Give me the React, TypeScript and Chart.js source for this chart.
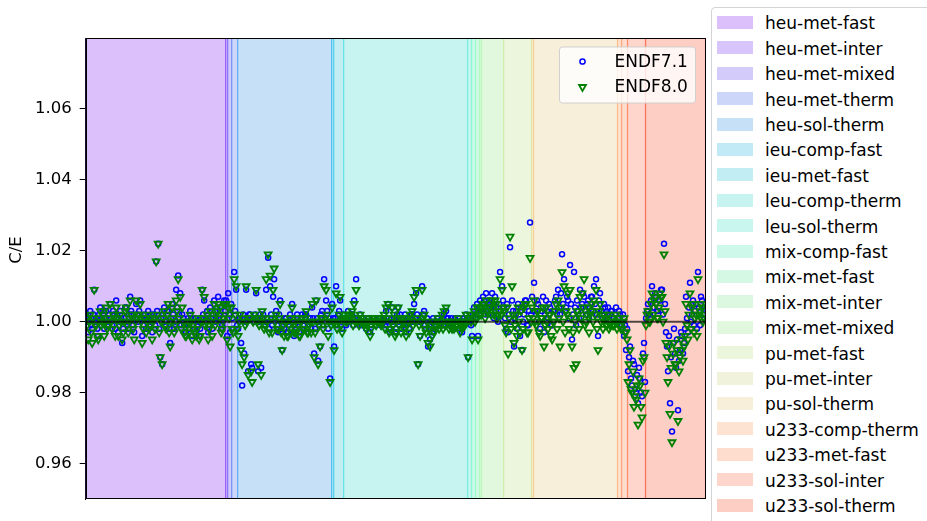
import React, { useEffect, useRef } from 'react';
import { Chart, registerables } from 'chart.js';

Chart.register(...registerables);

const categories = [
  'heu-met-fast', 'heu-met-inter', 'heu-met-mixed', 'heu-met-therm', 'heu-sol-therm',
  'ieu-comp-fast', 'ieu-met-fast', 'leu-comp-therm', 'leu-sol-therm', 'mix-comp-fast',
  'mix-met-fast', 'mix-met-inter', 'mix-met-mixed', 'pu-met-fast', 'pu-met-inter',
  'pu-sol-therm', 'u233-comp-therm', 'u233-met-fast', 'u233-sol-inter', 'u233-sol-therm',
];

// number of benchmark cases in each category, in plotting order
const categoryCounts = [140, 2, 4, 6, 94, 2, 10, 124, 4, 4, 4, 2, 22, 28, 2, 84, 4, 6, 18, 60];

const bandColors = [
  '#dcc0fb', '#d8c5fb', '#d3cbfa', '#ccd6f8', '#c6e1f7',
  '#c2e9f6', '#c2edf3', '#c7f4f1', '#c9f6ef', '#cdf8ea',
  '#d4f8e4', '#dcf8e1', '#e2f8de', '#ebf6dd', '#f1f2dc',
  '#f8efdb', '#fde4d2', '#fedcce', '#fed6cc', '#fdcec4',
];

const yTicks = [0.96, 0.98, 1.0, 1.02, 1.04, 1.06];
const seriesNames = ['ENDF7.1', 'ENDF8.0'];

const endf71 = [
  // heu-met-fast
  1.002,1.000,0.997,1.001,1.003,0.999,0.998,1.002,1.009,1.000,1.001,0.998,0.996,1.002,1.004,1.000,1.001,1.003,0.998,1.001,
  1.003,0.999,1.000,1.002,1.005,1.001,0.999,1.003,1.002,0.998,1.006,1.002,0.997,1.000,1.003,1.001,0.994,0.998,1.001,1.004,
  1.004,1.000,0.998,1.002,1.007,1.003,1.002,0.999,0.997,1.001,1.005,1.002,1.000,1.003,1.006,1.001,0.996,0.999,1.001,1.002,
  0.998,1.001,1.003,0.999,1.000,1.002,0.997,1.001,1.002,0.999,1.017,1.003,1.022,0.998,0.990,1.001,0.988,1.002,1.004,1.000,
  0.999,1.003,1.003,0.998,0.994,1.001,1.005,1.002,0.998,1.000,1.009,1.004,1.013,1.002,1.008,0.999,1.002,1.001,0.999,0.997,
  0.997,1.000,1.001,0.998,1.003,1.001,0.996,0.999,0.998,1.001,0.997,0.999,1.000,0.996,0.998,1.001,1.009,1.002,1.006,1.000,
  1.001,1.003,0.997,0.999,1.004,1.001,0.998,1.002,1.006,1.000,1.001,1.004,1.007,1.002,1.003,0.998,0.999,1.001,1.006,1.003,
  // heu-met-inter
  1.006,0.996,
  // heu-met-mixed
  1.008,1.002,0.997,1.005,
  // heu-met-therm
  1.001,0.998,1.014,1.003,1.009,0.999,
  // heu-sol-therm
  0.998,1.001,1.001,0.994,0.982,1.002,0.991,1.000,1.009,1.001,0.986,1.002,1.002,0.988,0.987,1.001,1.000,1.002,1.008,1.001,
  0.986,1.000,1.002,0.987,1.001,1.002,0.999,1.000,1.009,1.001,1.018,0.998,1.010,1.002,0.999,1.007,1.012,1.001,1.003,0.999,
  0.997,1.002,1.006,0.998,0.992,1.000,0.998,1.001,1.001,0.997,0.997,1.000,1.002,0.998,1.005,1.001,0.996,0.999,0.998,1.002,
  1.000,0.997,0.997,1.001,1.002,0.999,0.999,1.002,1.002,0.998,0.997,1.000,1.001,0.998,1.004,1.001,0.991,0.998,1.006,1.001,
  0.989,1.000,0.993,1.002,1.003,0.999,1.012,1.001,1.006,1.003,0.998,1.001,0.984,1.000,
  // ieu-comp-fast
  1.005,1.001,
  // ieu-met-fast
  0.993,1.001,1.010,0.999,1.002,1.003,1.006,1.000,0.998,1.002,
  // leu-comp-therm
  1.001,1.000,0.999,1.001,1.003,1.000,1.000,1.002,1.002,0.999,1.006,1.001,1.012,1.000,1.001,0.999,1.002,1.000,0.999,1.001,
  1.000,0.999,0.998,1.000,1.001,1.000,0.997,0.999,1.000,1.001,1.001,1.000,0.999,1.000,1.000,1.001,1.001,0.999,0.999,1.000,
  1.001,0.999,1.003,1.000,1.005,0.998,0.997,1.001,1.004,1.000,1.001,0.997,0.998,1.002,1.004,1.000,1.002,0.998,1.000,1.001,
  0.999,1.002,0.997,1.000,1.001,0.998,1.000,1.002,1.002,1.000,1.005,1.001,1.008,1.002,0.988,1.000,0.996,1.001,1.010,1.002,
  1.003,0.999,0.998,1.001,0.993,0.999,0.995,1.000,0.997,1.001,0.998,1.000,0.999,1.001,1.000,0.999,0.999,1.000,1.001,0.999,
  1.002,1.000,1.003,1.001,1.001,0.999,1.000,1.001,0.999,1.000,0.998,1.001,0.999,1.000,1.000,1.001,0.998,1.000,0.997,1.000,
  1.001,1.000,1.002,1.001,
  // leu-sol-therm
  0.990,1.000,1.001,0.999,
  // mix-comp-fast
  0.996,1.002,1.004,1.001,
  // mix-met-fast
  1.002,1.005,0.996,1.003,
  // mix-met-inter
  1.006,1.003,
  // mix-met-mixed
  1.003,1.007,1.006,1.002,1.008,1.004,1.002,1.006,1.005,1.003,1.008,1.005,1.001,1.007,1.004,1.002,1.000,1.005,1.014,1.003,1.010,1.006,
  // pu-met-fast
  1.004,1.001,0.998,1.005,0.997,1.002,1.021,1.000,1.006,1.003,0.993,1.001,1.003,0.998,1.005,1.002,0.996,1.004,0.992,1.000,
  1.002,1.006,1.006,0.999,0.999,1.003,1.028,1.002,
  // pu-met-inter
  1.007,1.003,
  // pu-sol-therm
  1.011,1.003,1.002,1.006,1.005,1.000,0.998,1.004,1.003,1.007,0.997,1.002,1.006,1.003,1.001,1.005,1.004,0.999,0.999,1.003,
  1.003,1.006,1.007,1.002,1.009,1.004,1.002,1.008,1.019,1.005,1.012,1.003,1.004,1.007,1.006,1.001,1.016,1.005,0.995,1.002,
  1.014,1.004,0.999,1.006,1.003,1.001,1.009,1.004,1.005,1.008,1.007,1.003,1.002,1.005,1.006,1.001,1.004,1.007,1.007,1.003,
  1.010,1.005,1.012,1.002,0.996,1.006,1.008,1.003,1.003,1.001,1.005,1.004,1.001,1.002,1.004,1.000,1.002,1.003,1.003,1.001,
  1.001,1.002,1.004,1.000,
  // u233-comp-therm
  1.001,1.003,1.002,0.999,
  // u233-met-fast
  0.999,1.002,0.996,0.999,0.992,0.998,
  // u233-sol-inter
  0.986,0.990,0.993,0.984,0.982,0.989,0.988,0.981,0.980,0.985,0.977,0.987,0.984,0.980,0.979,0.991,0.994,0.983,
  // u233-sol-therm
  1.001,1.003,1.005,1.002,1.002,1.006,1.010,1.004,1.004,1.008,1.007,1.003,1.003,1.006,1.006,1.009,1.009,1.002,1.022,1.005,
  0.997,0.993,0.986,0.996,0.977,0.990,0.969,0.994,0.998,0.991,0.987,0.995,0.975,0.989,0.992,0.997,0.996,0.991,0.994,0.998,
  1.007,1.001,0.997,1.004,1.011,1.000,1.002,1.006,0.999,1.003,1.005,0.998,1.014,1.004,0.999,1.007,1.006,1.002,1.002,1.004,
];

const endf80 = [
  // heu-met-fast
  1.001,0.999,0.995,1.000,1.002,0.997,0.994,1.001,1.009,0.999,0.999,0.996,0.995,1.001,1.003,0.999,1.000,1.002,0.996,1.000,
  1.004,0.998,0.999,1.001,1.005,1.000,0.998,1.002,1.001,0.996,1.004,1.001,0.996,0.999,1.002,1.000,0.995,0.997,1.000,1.003,
  1.004,0.999,0.997,1.001,1.006,1.002,1.001,0.998,0.995,1.000,1.006,1.001,1.002,1.002,1.005,1.000,0.994,0.998,1.001,1.001,
  0.997,1.000,1.002,0.998,0.999,1.001,0.995,1.000,1.001,0.998,1.017,1.002,1.022,0.997,0.990,1.000,0.988,1.001,1.003,0.999,
  0.998,1.002,1.005,0.997,0.993,1.000,1.004,1.001,0.997,0.999,1.006,1.003,1.012,1.001,1.007,0.998,1.004,1.000,0.997,0.996,
  0.996,0.999,1.000,0.997,1.002,1.000,0.995,0.998,0.997,1.000,0.996,0.998,1.001,0.995,0.996,1.000,1.009,1.001,1.007,0.999,
  1.000,1.002,0.995,0.998,1.003,1.000,0.996,1.001,1.005,0.999,1.002,1.003,1.005,1.001,1.004,0.997,0.998,1.000,1.005,1.002,
  // heu-met-inter
  1.005,0.995,
  // heu-met-mixed
  1.004,1.001,0.993,1.004,
  // heu-met-therm
  0.998,0.997,1.012,1.002,1.010,0.998,
  // heu-sol-therm
  0.996,1.000,1.002,0.992,0.988,1.001,0.990,0.999,1.010,1.000,0.985,1.001,1.001,0.986,0.983,1.000,1.002,1.001,1.009,1.000,
  0.988,0.999,1.001,0.985,1.003,1.001,0.998,0.999,1.012,1.000,1.019,0.997,1.013,1.001,0.997,1.009,1.015,1.000,1.002,0.998,
  0.998,1.001,1.005,0.997,0.992,0.999,0.996,1.000,1.000,0.996,0.996,0.999,1.001,0.997,1.004,1.000,0.997,0.998,0.997,1.001,
  0.999,0.996,0.996,1.000,1.001,0.998,0.998,1.001,1.003,0.997,0.997,0.999,1.000,0.997,1.005,1.000,0.990,0.997,1.006,1.000,
  0.988,0.999,0.993,1.001,1.001,0.998,1.010,1.000,1.009,1.002,0.996,1.000,0.983,0.999,
  // ieu-comp-fast
  1.004,1.000,
  // ieu-met-fast
  0.992,1.000,1.008,0.998,1.000,1.002,1.007,0.999,0.997,1.001,
  // leu-comp-therm
  1.002,1.001,1.000,1.000,1.002,1.001,1.001,1.002,1.003,0.999,1.005,1.000,1.009,1.001,1.000,0.999,1.002,1.001,1.000,1.000,
  0.999,1.000,0.998,0.999,1.000,1.001,0.996,0.998,1.001,1.000,1.000,1.001,0.999,1.000,1.001,1.000,1.000,0.999,1.000,1.001,
  1.002,0.998,1.004,1.001,1.005,0.997,0.998,1.000,1.004,0.999,1.002,0.996,0.997,1.001,1.004,0.999,1.001,0.997,1.001,1.000,
  0.998,1.001,0.996,0.999,1.000,0.997,1.002,1.001,1.003,0.999,1.007,1.000,1.009,1.001,0.988,0.999,0.996,1.000,1.009,1.001,
  1.002,0.998,0.997,1.000,0.994,0.998,0.993,0.999,0.996,1.000,0.997,0.999,0.998,1.000,1.001,0.998,1.000,0.999,1.002,0.998,
  1.003,0.999,1.004,1.000,1.000,0.998,0.999,1.000,0.998,0.999,0.998,1.000,0.999,0.999,1.001,1.000,0.997,0.999,0.998,0.999,
  1.000,0.999,1.002,1.000,
  // leu-sol-therm
  0.990,1.001,1.002,1.000,
  // mix-comp-fast
  0.995,1.001,1.003,1.000,
  // mix-met-fast
  1.001,1.004,0.995,1.002,
  // mix-met-inter
  1.004,1.002,
  // mix-met-mixed
  1.004,1.005,1.005,1.001,1.006,1.003,1.003,1.004,1.004,1.002,1.006,1.004,1.002,1.006,1.005,1.001,1.002,1.003,1.012,1.002,1.009,1.004,
  // pu-met-fast
  1.003,0.999,0.997,1.004,0.991,1.001,1.024,0.998,1.010,1.002,0.994,0.999,1.002,0.996,1.004,1.000,0.997,1.003,0.992,0.998,
  1.004,1.005,1.005,0.997,0.997,1.001,1.018,1.000,
  // pu-met-inter
  1.004,1.001,
  // pu-sol-therm
  1.006,1.000,0.999,1.003,1.003,0.997,0.996,1.001,1.001,1.004,0.993,0.999,1.004,1.000,0.998,1.002,1.002,0.996,0.995,1.000,
  1.000,1.003,1.005,0.998,1.006,1.001,0.993,1.004,1.014,1.000,1.010,0.997,1.003,1.002,1.008,0.998,1.009,1.001,0.993,0.997,
  0.987,1.000,0.988,1.003,1.002,0.998,1.007,1.001,1.008,1.004,1.012,0.999,1.000,1.002,1.004,0.997,1.002,1.003,1.005,1.000,
  1.006,1.002,1.009,0.998,0.992,1.003,1.005,1.000,1.001,0.998,1.002,1.001,0.999,0.999,1.002,0.998,0.999,1.000,1.001,0.999,
  0.999,1.000,1.002,0.998,
  // u233-comp-therm
  1.000,1.001,0.999,0.998,
  // u233-met-fast
  0.998,1.000,1.001,0.997,0.997,0.995,
  // u233-sol-inter
  0.983,0.988,0.992,0.981,0.980,0.986,0.976,0.979,0.978,0.982,0.971,0.984,0.982,0.976,0.973,0.989,0.990,0.980,
  // u233-sol-therm
  0.999,1.002,1.003,1.000,1.000,1.005,1.008,1.002,1.006,1.007,1.005,1.001,1.001,1.004,1.008,1.007,1.007,1.000,1.019,1.003,
  0.994,0.990,0.983,0.993,0.974,0.987,0.966,0.991,0.994,0.988,0.988,0.992,0.972,0.986,0.990,0.995,0.992,0.989,0.993,0.996,
  1.005,0.999,0.995,1.002,1.008,0.998,1.004,1.005,0.997,1.001,1.002,0.996,1.012,1.002,1.003,1.005,1.004,1.000,1.001,1.002,
];

const FONT = '"DejaVu Sans", "Liberation Sans", sans-serif';

function edgeColor(i: number, n: number) {
  const t = i / n;
  const r = Math.min(1, Math.abs(2 * t - 0.5));
  const g = Math.sin(Math.PI * t);
  const b = Math.cos((Math.PI * t) / 2);
  return `rgba(${Math.round(r * 255)},${Math.round(g * 255)},${Math.round(b * 255)},0.4)`;
}

const decorPlugin = {
  id: 'decor',
  beforeDatasetsDraw(chart: any) {
    const { ctx, chartArea: a, scales } = chart;
    const xs = scales.x;
    ctx.save();
    ctx.beginPath();
    ctx.rect(a.left, a.top, a.right - a.left, a.bottom - a.top);
    ctx.clip();
    let start = 0;
    const edges: Array<[number, number]> = [];
    categoryCounts.forEach((c, i) => {
      const x0 = xs.getPixelForValue(start - 0.5);
      const x1 = xs.getPixelForValue(start + c - 0.5);
      ctx.fillStyle = bandColors[i];
      ctx.fillRect(x0, a.top, x1 - x0, a.bottom - a.top);
      edges.push([x0, x1]);
      start += c;
    });
    edges.forEach(([x0, x1], i) => {
      ctx.strokeStyle = edgeColor(i, categories.length);
      ctx.lineWidth = 1.2;
      [x0, x1].forEach((xx) => {
        ctx.beginPath();
        ctx.moveTo(xx, a.top);
        ctx.lineTo(xx, a.bottom);
        ctx.stroke();
      });
    });
    ctx.restore();
  },
  afterDatasetsDraw(chart: any) {
    const { ctx, chartArea: a, scales } = chart;
    ctx.save();
    // reference line at C/E = 1
    const y1 = scales.y.getPixelForValue(1);
    ctx.strokeStyle = 'rgba(0,0,0,0.68)';
    ctx.lineWidth = 2;
    ctx.beginPath();
    ctx.moveTo(a.left, y1);
    ctx.lineTo(a.right, y1);
    ctx.stroke();

    // frame
    ctx.strokeStyle = '#000';
    ctx.lineWidth = 1;
    ctx.strokeRect(Math.round(a.left) + 0.5, Math.round(a.top) + 0.5,
      Math.round(a.right - a.left) - 1, Math.round(a.bottom - a.top) - 1);

    // series legend inside plot
    const bw = 136, bh = 56;
    const bx = a.right - 10 - bw, by = a.top + 9;
    ctx.beginPath();
    const r = 3;
    ctx.moveTo(bx + r, by);
    ctx.arcTo(bx + bw, by, bx + bw, by + bh, r);
    ctx.arcTo(bx + bw, by + bh, bx, by + bh, r);
    ctx.arcTo(bx, by + bh, bx, by, r);
    ctx.arcTo(bx, by, bx + bw, by, r);
    ctx.closePath();
    ctx.fillStyle = 'rgba(255,255,255,0.8)';
    ctx.fill();
    ctx.strokeStyle = 'rgba(204,204,204,0.9)';
    ctx.stroke();

    const mx = bx + 23;
    const rows = [by + 14.5, by + 40];
    ctx.strokeStyle = '#0000ff';
    ctx.lineWidth = 1.5;
    ctx.beginPath();
    ctx.arc(mx, rows[0], 2.6, 0, Math.PI * 2);
    ctx.stroke();
    const tr = 4;
    ctx.strokeStyle = '#008000';
    ctx.lineWidth = 1.8;
    ctx.beginPath();
    ctx.moveTo(mx, rows[1] + tr);
    ctx.lineTo(mx - tr * Math.sin(Math.PI / 3), rows[1] - tr / 2);
    ctx.lineTo(mx + tr * Math.sin(Math.PI / 3), rows[1] - tr / 2);
    ctx.closePath();
    ctx.stroke();

    ctx.fillStyle = '#000';
    ctx.font = `17px ${FONT}`;
    ctx.textBaseline = 'middle';
    ctx.textAlign = 'left';
    seriesNames.forEach((s, i) => ctx.fillText(s, bx + 55, rows[i] + 1));

    // y axis label
    ctx.translate(17, 250);
    ctx.rotate(-Math.PI / 2);
    ctx.textAlign = 'center';
    ctx.font = `16.5px ${FONT}`;
    ctx.fillText('C/E', 0, 0);
    ctx.restore();
  },
};

export default function App() {
  const ref = useRef<HTMLCanvasElement | null>(null);

  useEffect(() => {
    if (!ref.current) return;
    const chart = new Chart(ref.current, {
      type: 'scatter',
      data: {
        datasets: [
          {
            label: seriesNames[0],
            data: endf71.map((v, i) => ({ x: i, y: v })),
            order: 2,
            pointStyle: 'circle',
            pointRadius: 2.5,
            pointBorderWidth: 1.5,
            borderColor: '#0000ff',
            backgroundColor: 'rgba(0,0,0,0)',
          },
          {
            label: seriesNames[1],
            data: endf80.map((v, i) => ({ x: i, y: v })),
            order: 1,
            pointStyle: 'triangle',
            pointRotation: 180,
            pointRadius: 4,
            pointBorderWidth: 1.8,
            borderColor: '#008000',
            backgroundColor: 'rgba(0,0,0,0)',
          },
        ],
      },
      options: {
        animation: false,
        responsive: false,
        events: [],
        layout: { padding: { left: 0, top: 38, right: 221.5, bottom: 22 } },
        plugins: { legend: { display: false }, tooltip: { enabled: false } },
        scales: {
          x: {
            type: 'linear',
            display: false,
            min: -0.5,
            max: endf71.length - 0.5,
          },
          y: {
            min: 0.95,
            max: 1.08,
            afterFit: (s: any) => { s.width = 85.7; },
            afterBuildTicks: (s: any) => { s.ticks = yTicks.map((v) => ({ value: v })); },
            ticks: {
              callback: (v: any) => Number(v).toFixed(2),
              font: { family: FONT, size: 16.5 },
              color: '#000',
              padding: 8,
            },
            grid: {
              display: true,
              drawOnChartArea: false,
              drawTicks: true,
              tickLength: 6,
              tickColor: '#000',
            },
            border: { display: true, color: '#000' },
          },
        },
      },
      plugins: [decorPlugin],
    });
    return () => chart.destroy();
  }, []);

  return (
    <div style={{ position: 'fixed', left: 0, top: 0, width: 927, height: 521, overflow: 'hidden', background: '#fff' }}>
      <canvas ref={ref} width={927} height={521} style={{ position: 'absolute', left: 0, top: 0 }} />
      <div style={{
        position: 'absolute', left: 711, top: 7, width: 240, height: 540,
        border: '1px solid #d4d4d4', borderRadius: 4, background: '#fff', boxSizing: 'border-box',
      }} />
      {categories.map((c, i) => (
        <React.Fragment key={c}>
          <div style={{
            position: 'absolute', left: 717.3, top: 16 + 25.4 * i, width: 36, height: 13,
            background: bandColors[i],
          }} />
          <div style={{
            position: 'absolute', left: 765, top: 13.3 + 25.4 * i, height: 20, lineHeight: '20px',
            fontFamily: FONT, fontSize: 17, color: '#000', whiteSpace: 'nowrap',
          }}>{c}</div>
        </React.Fragment>
      ))}
    </div>
  );
}
